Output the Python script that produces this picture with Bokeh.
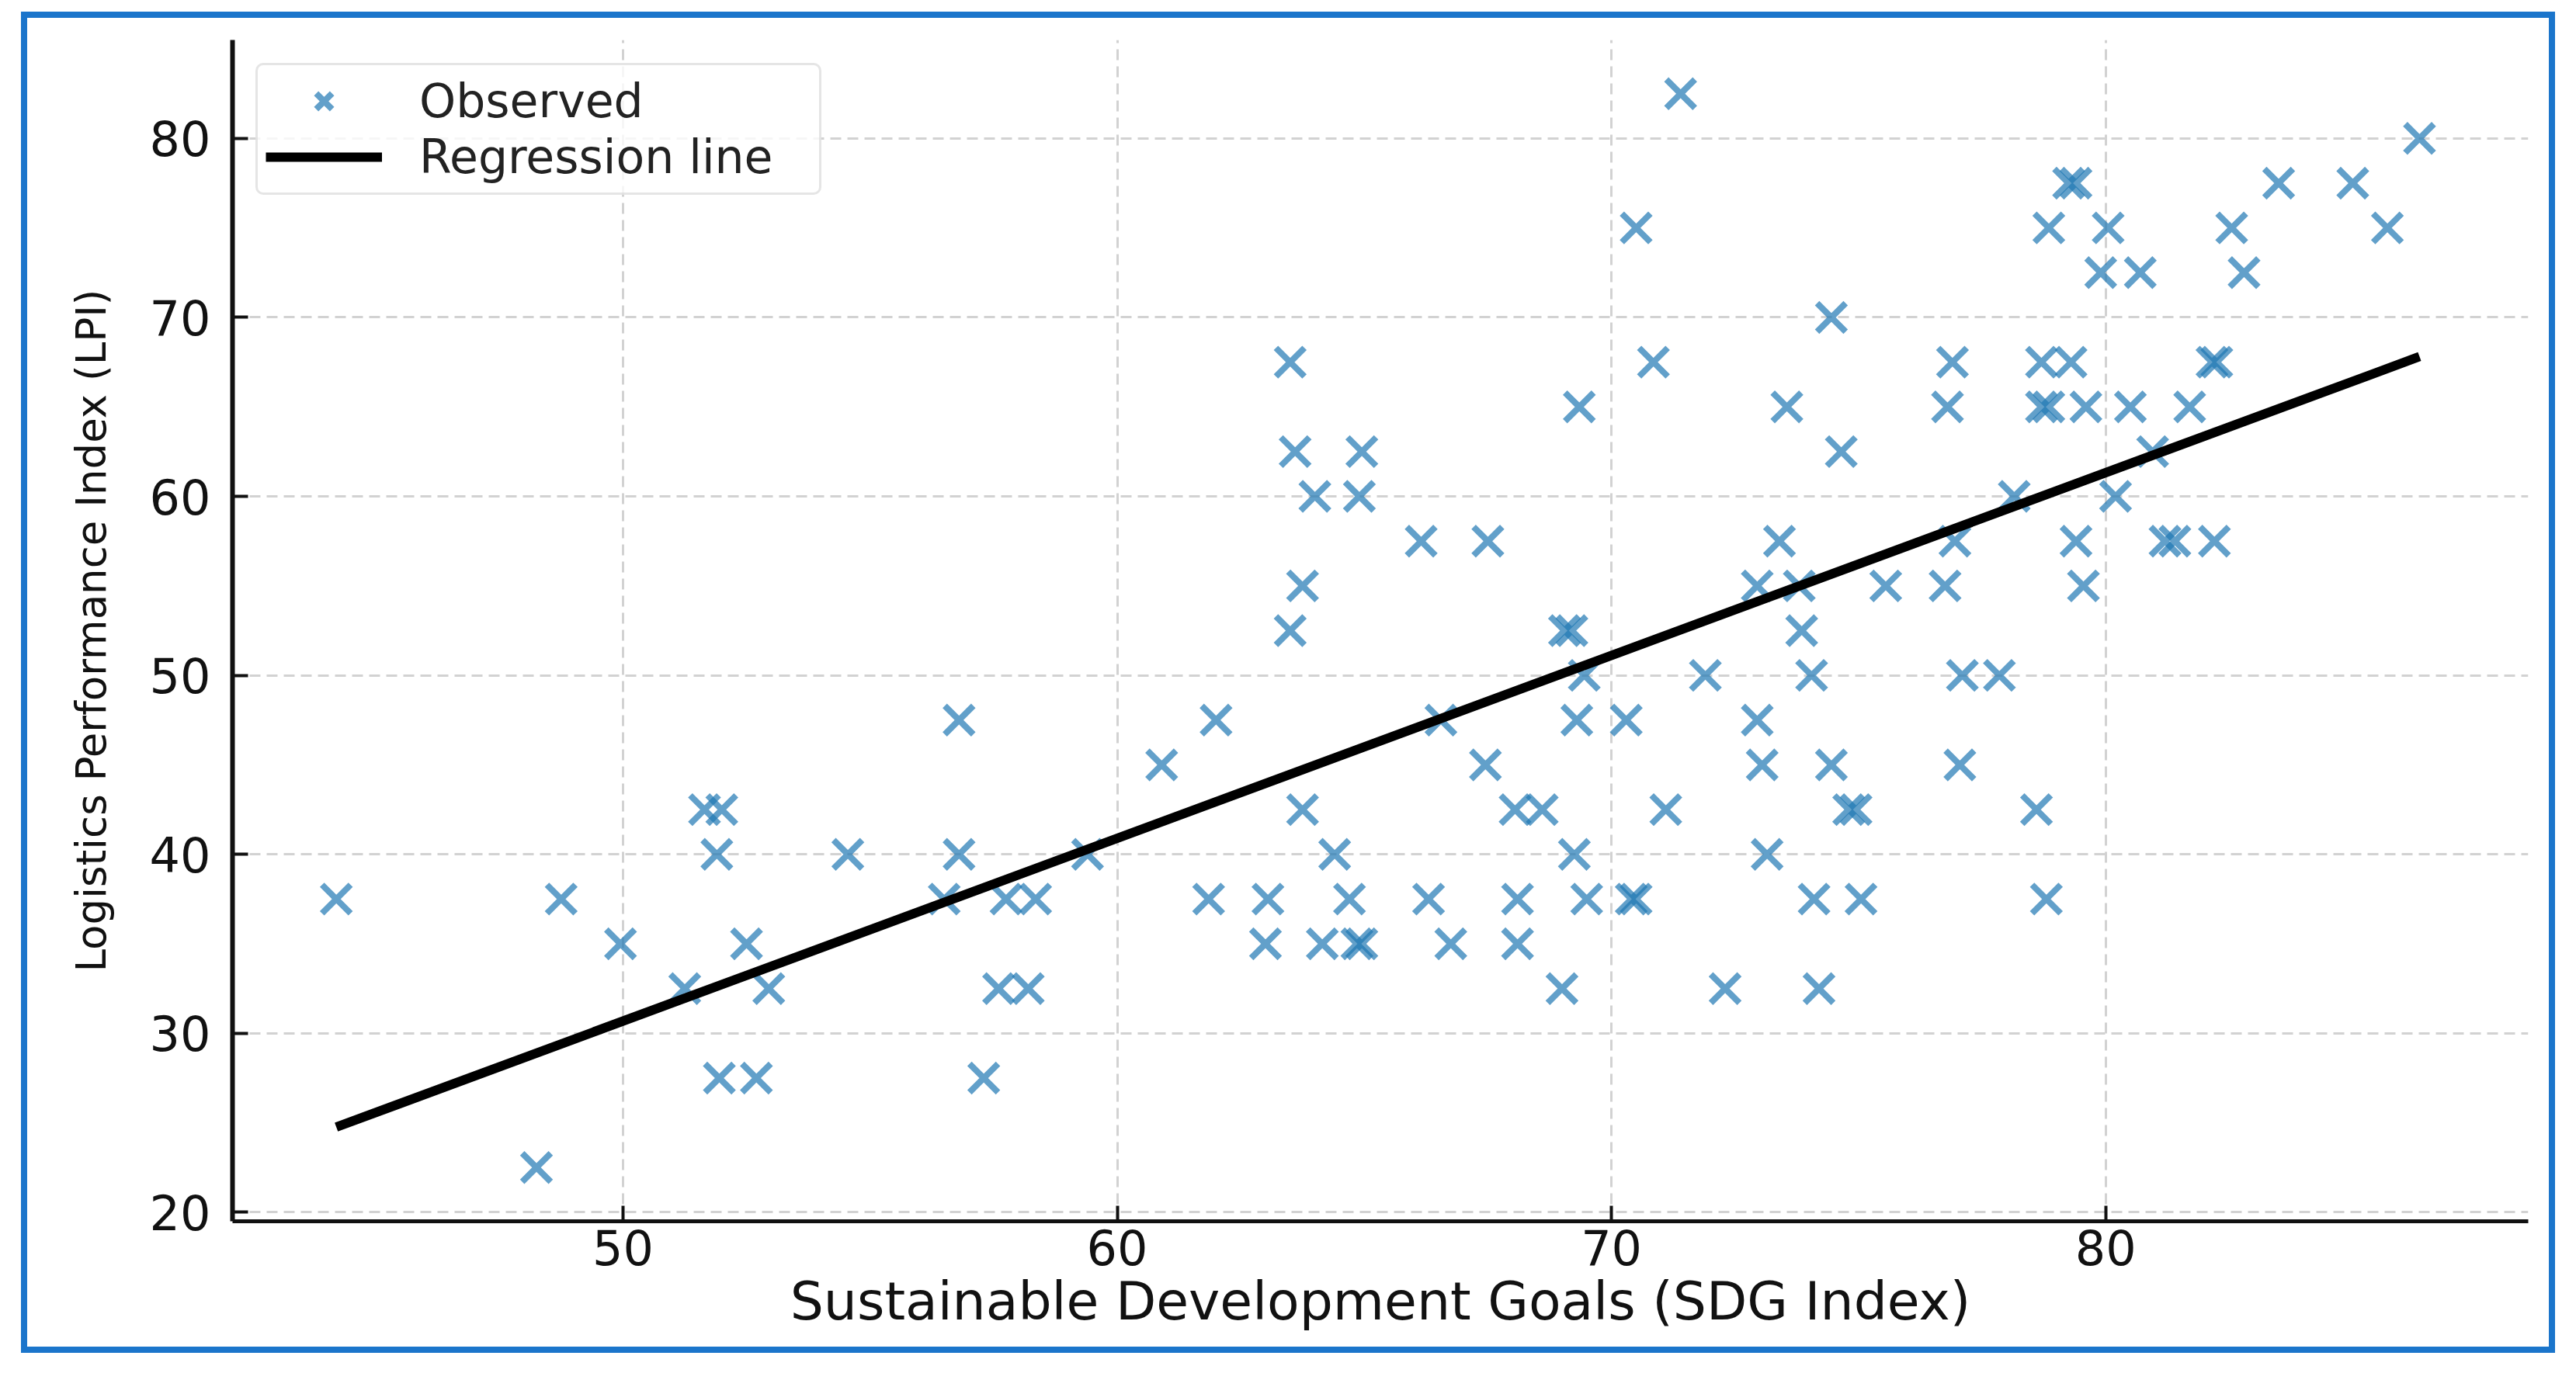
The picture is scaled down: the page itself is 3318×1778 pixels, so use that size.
from bokeh.plotting import figure
from bokeh.models import (Range1d, FixedTicker, Legend, LegendItem, ColumnDataSource)
from bokeh.embed import file_html
from bokeh.resources import INLINE

# ---- data ----
sdg_index = [
    71.4,
    86.35,
    79.25, 79.4, 83.5, 85.0,
    70.5, 78.85, 80.05, 82.55, 85.7,
    79.9, 80.7, 82.8,
    74.45,
    63.5, 70.85, 76.9, 78.7, 79.3, 82.15, 82.25,
    69.35, 73.55, 76.8, 78.7, 78.85, 79.6, 80.5, 81.7,
    63.6, 64.95, 74.65, 80.95,
    64.0, 64.9, 78.15, 80.2,
    66.15, 67.5, 73.4, 76.95, 79.4, 81.2, 81.4, 82.2,
    63.75, 72.95, 73.8, 75.55, 76.75, 79.55,
    63.5, 69.05, 69.2, 73.85,
    69.45, 71.9, 74.05, 77.1, 77.85,
    56.8, 62.0, 66.55, 69.3, 70.3, 72.95,
    60.9, 67.45, 73.05, 74.45, 77.05,
    51.65, 52.0, 63.75, 68.05, 68.6, 71.1, 74.8, 74.95, 78.6,
    51.9, 54.55, 56.8, 59.4, 64.4, 69.25, 73.15,
    44.2, 48.75, 56.5, 57.75, 58.35, 61.85, 63.05, 64.7, 66.3, 68.1, 69.5, 70.4, 70.5, 74.1, 75.05, 78.8,
    49.95, 52.5, 63.0, 64.15, 64.85, 64.95, 66.75, 68.1,
    51.25, 52.95, 57.6, 58.2, 69.0, 72.3, 74.2,
    51.95, 52.7, 57.3,
    48.25,
]
lpi = (
    [82.5] * 1 + [80.0] * 1 + [77.5] * 4 + [75.0] * 5 + [72.5] * 3 + [70.0] * 1 +
    [67.5] * 7 + [65.0] * 8 + [62.5] * 4 + [60.0] * 4 + [57.5] * 8 + [55.0] * 6 +
    [52.5] * 4 + [50.0] * 5 + [47.5] * 6 + [45.0] * 5 + [42.5] * 9 + [40.0] * 7 +
    [37.5] * 16 + [35.0] * 8 + [32.5] * 7 + [27.5] * 3 + [22.5] * 1
)

# regression line coefficients
reg_slope = 1.0213
reg_intercept = -20.38

x_ticks = [50, 60, 70, 80]
y_ticks = [20, 30, 40, 50, 60, 70, 80]

x_label = "Sustainable Development Goals (SDG Index)"
y_label = "Logistics Performance Index (LPI)"

FONT = "DejaVu Sans"
TXT = "#111111"

W, H = 3248, 1712
p = figure(width=W, height=H, output_backend="svg", toolbar_location=None,
           x_range=Range1d(42.1, 88.55), y_range=Range1d(19.5, 85.5),
           min_border_left=264, min_border_right=43,
           min_border_top=28, min_border_bottom=178,
           background_fill_color="white", border_fill_color="white")
p.outline_line_color = None
# blue frame around the whole picture
p.margin = (15, 0, 0, 27)
p.styles = {"border": "8px solid #1B75CB", "box-sizing": "content-box"}

src = ColumnDataSource(dict(x=sdg_index, y=lpi))
sc = p.scatter(x="x", y="y", source=src, marker="x", size=52,
               line_color="#1f77b4", line_alpha=0.7, line_width=8)

rx = [min(sdg_index), max(sdg_index)]
ry = [reg_slope * v + reg_intercept for v in rx]
ln = p.line(rx, ry, line_color="black", line_width=12)

# axes
for ax, ticks in ((p.xaxis[0], x_ticks), (p.yaxis[0], y_ticks)):
    ax.ticker = FixedTicker(ticks=ticks)
    ax.minor_tick_line_color = None
    ax.major_tick_in = 20
    ax.major_tick_out = 0
    ax.major_tick_line_width = 4
    ax.major_tick_line_color = "#111111"
    ax.axis_line_color = "#111111"
    ax.major_label_text_font = FONT
    ax.major_label_text_font_size = "62px"
    ax.major_label_text_color = TXT
    ax.axis_label_text_font = FONT
    ax.axis_label_text_font_style = "normal"
    ax.axis_label_text_color = TXT

p.xaxis.axis_line_width = 5
p.yaxis.axis_line_width = 6
p.xaxis.major_label_standoff = 10
p.yaxis.major_label_standoff = 28
p.xaxis.axis_label = x_label
p.yaxis.axis_label = y_label
p.xaxis.axis_label_text_font_size = "68px"
p.yaxis.axis_label_text_font_size = "53px"
p.xaxis.axis_label_standoff = 4
p.yaxis.axis_label_standoff = 42

# grid
for g in (p.xgrid[0], p.ygrid[0]):
    g.grid_line_color = "#d2d2d2"
    g.grid_line_width = 3
    g.grid_line_dash = "14 8"
p.xgrid.ticker = FixedTicker(ticks=x_ticks)
p.ygrid.ticker = FixedTicker(ticks=y_ticks)

# legend
legend = Legend(items=[LegendItem(label="Observed", renderers=[sc]),
                       LegendItem(label="Regression line", renderers=[ln])],
                location="top_left")
legend.margin = 30
legend.padding = 10
legend.spacing = 0
legend.glyph_width = 150
legend.glyph_height = 72
legend.label_height = 72
legend.label_width = 505
legend.label_standoff = 48
legend.label_text_font = FONT
legend.label_text_font_size = "60px"
legend.label_text_color = "#222222"
legend.border_line_color = "#cccccc"
legend.border_line_width = 3
legend.background_fill_color = "white"
legend.background_fill_alpha = 0.8
if "border_radius" in legend.properties():
    legend.border_radius = 10
p.add_layout(legend)

open("out.html", "w").write(file_html(p, INLINE))
